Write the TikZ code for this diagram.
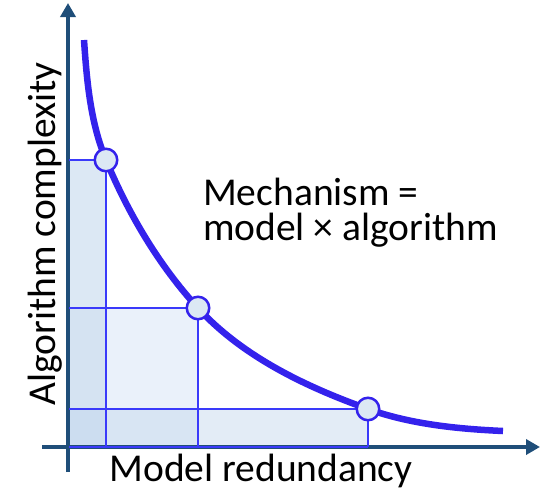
\documentclass[tikz,border=0pt]{standalone}
\usepackage{fontspec}
\setmainfont{Carlito}
\usetikzlibrary{arrows.meta}
\definecolor{axisblue}{RGB}{31,78,121}
\definecolor{curveblue}{RGB}{52,34,236}
\definecolor{lineblue}{RGB}{58,58,250}
\definecolor{fA}{HTML}{DCE8F4}
\definecolor{fB}{HTML}{D5E3F2}
\definecolor{fC}{HTML}{EAF1FA}
\definecolor{fD}{HTML}{CCDDF0}
\definecolor{fE}{HTML}{D8E5F3}
\definecolor{fF}{HTML}{E3ECF6}
\tikzset{
  axisline/.style={draw=axisblue, line width=4.5pt, -{Triangle[length=14pt,width=15pt]}},
  gridline/.style={draw=lineblue, line width=1.5pt},
  curveline/.style={draw=curveblue, line width=6.5pt},
  dot/.style={circle, draw=curveblue, line width=2.5pt, fill=fA, minimum size=22.5pt, inner sep=0pt},
  lbl/.style={font=\fontsize{39.5}{40}\selectfont, inner sep=0pt}
}
\begin{document}
\begin{tikzpicture}[x=1pt,y=-1pt]
\useasboundingbox (0,0) rectangle (552,490);
% fills
\fill[fA] (69,160) rectangle (106,308);
\fill[fB] (69,308) rectangle (106,409);
\fill[fC] (106,308) rectangle (198,409);
\fill[fD] (69,409) rectangle (106,447);
\fill[fE] (106,409) rectangle (198,447);
\fill[fF] (198,409) rectangle (368,447);
% axes
\coordinate (yb) at (68,472);
\coordinate (yt) at (68,3);
\coordinate (xl) at (42,447);
\coordinate (xr) at (540,447);
\draw[axisline] (yb) -- (yt);
\draw[axisline] (xl) -- (xr);
% points
\coordinate (c0) at (84,40);
\coordinate (c1) at (106,160);
\coordinate (c2) at (198,308);
\coordinate (c3) at (368,409);
\coordinate (c4) at (503,431);
% grid lines
\draw[gridline] (69,160) -- (c1) -- (106,447);
\draw[gridline] (69,308) -- (c2) -- (198,447);
\draw[gridline] (69,409) -- (c3) -- (368,447);
\draw[gridline] (69,447) -- (368,447);
% curve
\draw[curveline] (c0) .. controls (86.8,80.6) and (90.3,122.4) .. (c1)
  .. controls (128.3,213.5) and (158.8,265.3) .. (c2)
  .. controls (242.6,356.6) and (305.8,386.8) .. (c3)
  .. controls (411,424.3) and (457.5,428.9) .. (c4);
% circles
\node[dot] (p1) at (c1) {};
\node[dot] (p2) at (c2) {};
\node[dot] (p3) at (c3) {};
% texts
\node[lbl, anchor=base west, align=left] (mech) at (203,240) {Mechanism =\\[-5pt]model × algorithm};
\node[lbl, anchor=base] (xlab) at (261,481) {Model redundancy};
\node[lbl, rotate=90, anchor=base] (ylab) at (55,234) {Algorithm complexity};
\end{tikzpicture}
\end{document}
